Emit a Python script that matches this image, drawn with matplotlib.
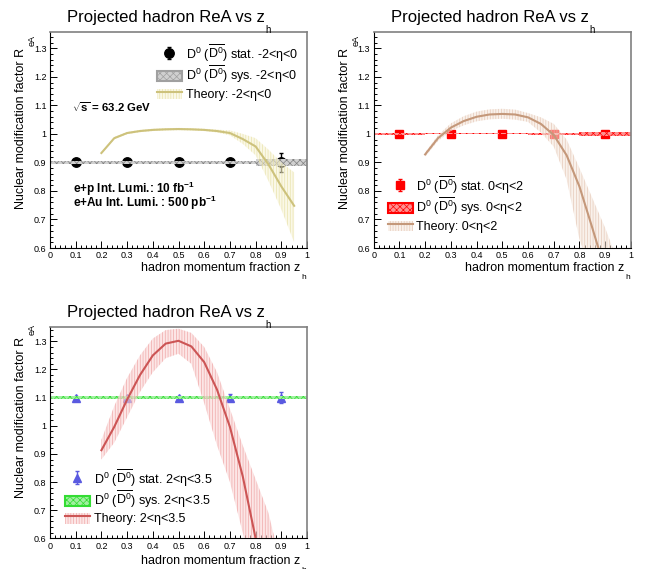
import matplotlib
matplotlib.use("Agg")
import matplotlib.pyplot as plt
from matplotlib.patches import Patch, Rectangle
from matplotlib.lines import Line2D
from matplotlib.legend_handler import HandlerPatch
from matplotlib.ticker import MultipleLocator, FuncFormatter

plt.rcParams['font.family'] = ['Liberation Sans', 'DejaVu Sans']
plt.rcParams['mathtext.fontset'] = 'custom'
plt.rcParams['mathtext.rm'] = 'Liberation Sans'
plt.rcParams['mathtext.it'] = 'Liberation Sans:italic'
plt.rcParams['mathtext.bf'] = 'Liberation Sans:bold'
plt.rcParams['hatch.linewidth'] = 0.5

# projected D0 points, bins of width 0.2 in z_h
z_pts = [0.1, 0.3, 0.5, 0.7, 0.9]
bin_w = 0.2

r_bwd = [0.9, 0.9, 0.9, 0.9, 0.9]
stat_bwd = [0.008, 0.005, 0.005, 0.006, 0.034]
sys_bwd = [0.006, 0.004, 0.004, 0.005, 0.011]

r_mid = [1.0, 1.0, 1.0, 1.0, 1.0]
stat_mid = [0.004, 0.004, 0.004, 0.005, 0.011]
sys_mid = [0.003, 0.002, 0.002, 0.003, 0.006]

r_fwd = [1.1, 1.1, 1.1, 1.1, 1.1]
stat_fwd = [0.005, 0.006, 0.005, 0.013, 0.02]
sys_fwd = [0.005, 0.004, 0.004, 0.004, 0.006]

# theory curves with their uncertainty bands
z_th = [0.2, 0.25, 0.3, 0.35, 0.4, 0.45, 0.5, 0.55, 0.6, 0.65, 0.7, 0.75, 0.8, 0.85, 0.9, 0.95]
th_bwd = [0.933, 0.985, 1.003, 1.010, 1.014, 1.016, 1.017, 1.016, 1.014, 1.010, 1.003, 0.982, 0.956, 0.893, 0.816, 0.748]
th_bwd_hi = [0.936, 0.989, 1.007, 1.014, 1.018, 1.020, 1.021, 1.020, 1.018, 1.015, 1.012, 1.000, 0.985, 0.945, 0.900, 0.865]
th_bwd_lo = [0.930, 0.981, 0.999, 1.006, 1.010, 1.012, 1.013, 1.012, 1.010, 1.005, 0.995, 0.965, 0.925, 0.835, 0.735, 0.620]

th_mid = [0.928, 0.985, 1.022, 1.045, 1.060, 1.068, 1.070, 1.068, 1.058, 1.035, 0.996, 0.925, 0.815, 0.670, 0.520, 0.370]
th_mid_hi = [0.935, 0.995, 1.037, 1.062, 1.078, 1.086, 1.088, 1.085, 1.073, 1.058, 1.035, 0.980, 0.880, 0.775, 0.670, 0.550]
th_mid_lo = [0.920, 0.975, 1.010, 1.030, 1.044, 1.051, 1.053, 1.050, 1.042, 1.005, 0.955, 0.840, 0.630, 0.500, 0.350, 0.200]

z_th_fwd = [0.2, 0.25, 0.3, 0.35, 0.4, 0.45, 0.5, 0.55, 0.6, 0.65, 0.7, 0.75, 0.8, 0.85, 0.9]
th_fwd = [0.913, 0.996, 1.093, 1.180, 1.250, 1.292, 1.302, 1.282, 1.226, 1.128, 0.996, 0.820, 0.600, 0.400, 0.200]
th_fwd_hi = [0.950, 1.070, 1.170, 1.250, 1.310, 1.340, 1.345, 1.330, 1.280, 1.190, 1.060, 0.930, 0.810, 0.690, 0.500]
th_fwd_lo = [0.880, 0.940, 1.030, 1.120, 1.190, 1.240, 1.256, 1.220, 1.080, 0.930, 0.800, 0.620, 0.450, 0.300, 0.100]

fig = plt.figure(figsize=(6.51, 5.69), dpi=100)
ax1 = fig.add_axes([0.0768, 0.5641, 0.3948, 0.3796])
ax2 = fig.add_axes([0.5740, 0.5641, 0.3952, 0.3796])
ax3 = fig.add_axes([0.0768, 0.0540, 0.3948, 0.3708])


def lab(v, pos):
    return '%g' % round(v, 2)


def small_box(legend, orig_handle, xdescent, ydescent, width, height, fontsize):
    h = 0.62 * height
    return Rectangle((-xdescent, -ydescent + (height - h) / 2), width, h)


def frame(ax, ytop, xlab_dy, ylab_dy):
    ax.set_xlim(0, 1)
    ax.set_ylim(0.6, ytop)
    ax.xaxis.set_major_locator(MultipleLocator(0.1))
    ax.xaxis.set_minor_locator(MultipleLocator(0.02))
    ax.yaxis.set_major_locator(MultipleLocator(0.1))
    ax.yaxis.set_minor_locator(MultipleLocator(0.02))
    ax.xaxis.set_major_formatter(FuncFormatter(lab))
    ax.yaxis.set_major_formatter(FuncFormatter(lab))
    ax.tick_params(which='both', direction='in', top=False, right=False,
                   width=0.7, labelsize=6.5, colors='black')
    ax.tick_params(which='major', length=5, pad=2.5)
    ax.tick_params(which='minor', length=2.5)
    for s in ['top', 'right']:
        ax.spines[s].set_color('#808080')
        ax.spines[s].set_linewidth(1.2)
    for s in ['left', 'bottom']:
        ax.spines[s].set_linewidth(0.8)
    # title with low subscript h (ROOT style)
    t = ax.annotate("Projected hadron ReA vs z", xy=(0, 1), xycoords='axes fraction',
                    xytext=(17, 10), textcoords='offset pixels', fontsize=12,
                    va='baseline', ha='left')
    ax.annotate("h", xy=(1, 0), xycoords=t, xytext=(1, -7.5), textcoords='offset pixels',
                fontsize=7, va='baseline', ha='left')
    xl = ax.annotate("hadron momentum fraction z", xy=(1, 0), xycoords='axes fraction',
                     xytext=(-7, -xlab_dy), textcoords='offset pixels', fontsize=9,
                     va='baseline', ha='right')
    ax.annotate("h", xy=(1, 0), xycoords=xl, xytext=(1, -4.5), textcoords='offset pixels',
                fontsize=6, va='baseline', ha='left')
    yl = ax.annotate("Nuclear modification factor R", xy=(0, 1), xycoords='axes fraction',
                     xytext=(-29, -ylab_dy), textcoords='offset pixels', fontsize=9,
                     rotation=90, va='top', ha='center')
    ax.annotate("eA", xy=(1, 1), xycoords=yl, xytext=(10, 2), textcoords='offset pixels',
                fontsize=6.5, rotation=90, va='bottom', ha='right')


def panel(ax, r, stat, sys, mk, mcol, ms, scol_face, scol_hatch, zt, th, lo, hi,
          tcol, bface, bhatch, eta, leg_xy, sys_edge):
    eb = ax.errorbar(z_pts, r, yerr=stat, fmt=mk, color=mcol, ms=ms, capsize=1.5,
                     elinewidth=1, capthick=1, zorder=2)
    ax.bar(z_pts, [2 * s for s in sys], width=bin_w, bottom=[a - s for a, s in zip(r, sys)],
           color=scol_face, edgecolor=scol_hatch, hatch='xxxxx', linewidth=0, zorder=2.5)
    ax.fill_between(zt, lo, hi, facecolor=bface, edgecolor=bhatch, hatch='||||||',
                    linewidth=0, zorder=3)
    ax.plot(zt, th, color=tcol, lw=1.5, zorder=4)
    h_sys = Patch(facecolor=scol_face, edgecolor=sys_edge, hatch='xxxxx', linewidth=1.5)
    h_th = (Patch(facecolor=bface, edgecolor=bhatch, hatch='||||||', linewidth=0),
            Line2D([], [], color=tcol, lw=1.5))
    labels = [r"D$^{0}$ ($\overline{\mathrm{D}^{0}}$) stat. " + eta,
              r"D$^{0}$ ($\overline{\mathrm{D}^{0}}$) sys. " + eta,
              "Theory: " + eta]
    ax.legend([eb, h_sys, h_th], labels, loc='upper left', bbox_to_anchor=leg_xy,
              frameon=False, fontsize=9, handlelength=2.0, handleheight=1.65,
              handletextpad=0.3, labelspacing=0.0, borderpad=0, borderaxespad=0,
              handler_map={Patch: HandlerPatch(patch_func=small_box)})


frame(ax1, 1.357, 23, 16)
frame(ax2, 1.357, 23, 16)
frame(ax3, 1.35, 26, 10)

panel(ax1, r_bwd, stat_bwd, sys_bwd, 'o', 'black', 6.8, '#d0d0d0', '#808080',
      z_th, th_bwd, th_bwd_lo, th_bwd_hi, '#cdc27c', (0.97, 0.95, 0.82, 0.5),
      (0.90, 0.87, 0.62, 0.8), "-2<η<0", (0.416, 0.95), '#a0a0a0')
panel(ax2, r_mid, stat_mid, sys_mid, 's', '#ff0000', 6.2, '#ff9090', '#ff0000',
      z_th, th_mid, th_mid_lo, th_mid_hi, '#c4987a', (0.96, 0.90, 0.86, 0.55),
      (0.88, 0.74, 0.66, 0.75), "0<η<2", (0.054, 0.339), '#ff0000')
panel(ax3, r_fwd, stat_fwd, sys_fwd, '^', '#5a5ae0', 6.4, '#a0f0a0', '#33dd33',
      z_th_fwd, th_fwd, th_fwd_lo, th_fwd_hi, '#cc5555', (0.98, 0.84, 0.84, 0.6),
      (0.92, 0.58, 0.58, 0.75), "2<η<3.5", (0.058, 0.335), '#33dd33')

ax1.text(0.086, 0.63, r"$\sqrt{\mathbf{s}}$ = 63.2 GeV", transform=ax1.transAxes,
         fontsize=8.2, fontweight='bold', va='baseline')
ax1.text(0.09, 0.253, r"e+p Int. Lumi.: 10 fb$^{\mathbf{-1}}$", transform=ax1.transAxes,
         fontsize=8.5, fontweight='bold', va='baseline')
ax1.text(0.09, 0.192, r"e+Au Int. Lumi. : 500 pb$^{\mathbf{-1}}$", transform=ax1.transAxes,
         fontsize=8.5, fontweight='bold', va='baseline')

fig.savefig("out.png", dpi=100, facecolor='white')
